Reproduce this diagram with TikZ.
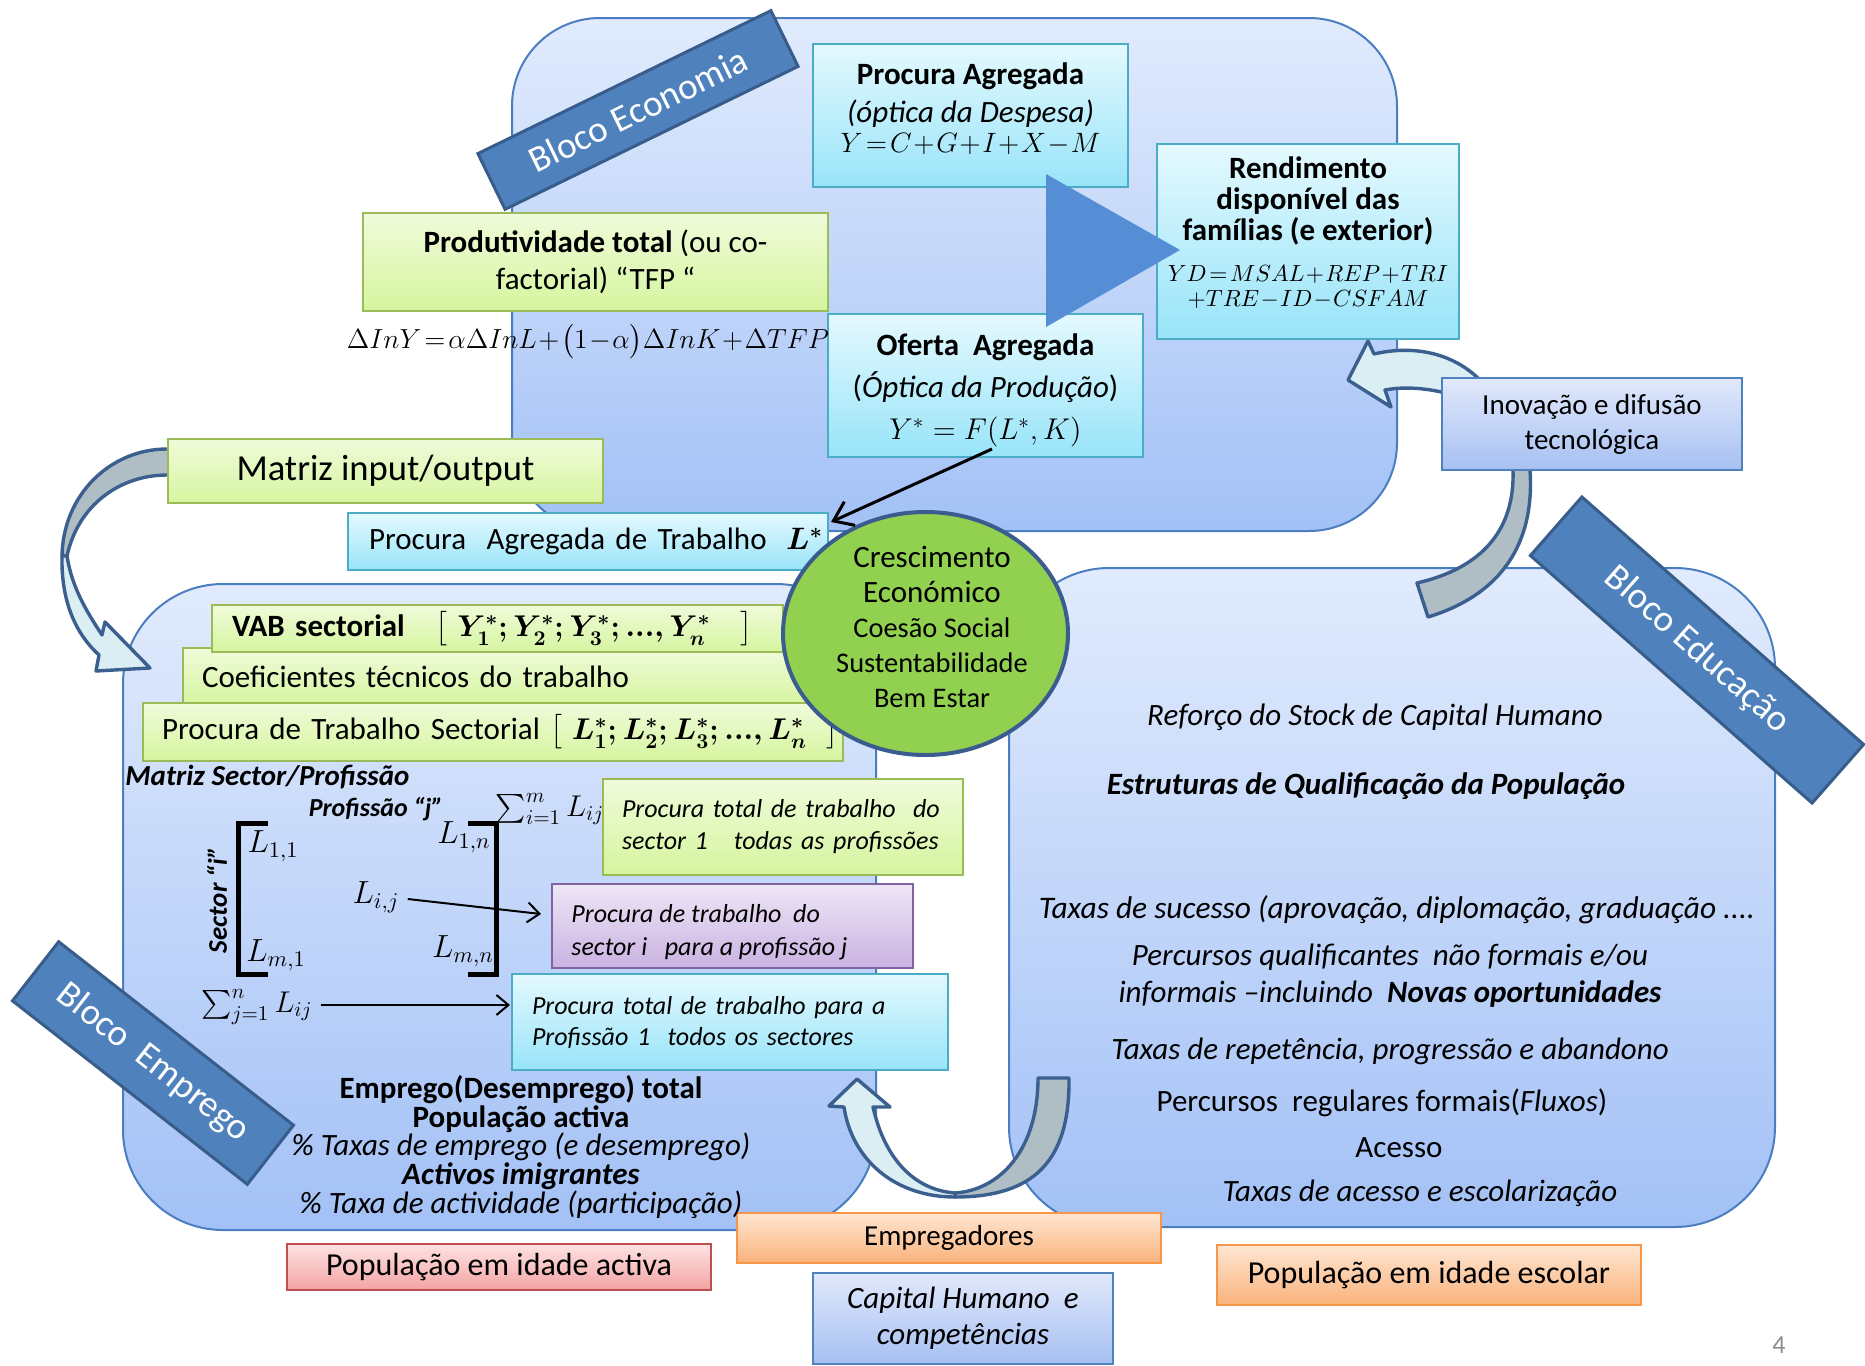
\RequirePackage{fix-cm}
\documentclass[tikz,border=0pt]{standalone}
\usepackage{amsmath}
\usepackage{fontspec}
\setmainfont{Carlito}
\usetikzlibrary{shapes.geometric,arrows.meta,calc}
\newcommand\myfs[2]{\fontsize{#1}{#2}\selectfont}
\newcommand\tightm{\medmuskip=1mu\thickmuskip=2mu\relax}
\lineskiplimit=-50pt
\definecolor{bigT}{HTML}{E1EBFD}
\definecolor{bigB}{HTML}{A3C1F6}
\definecolor{bigD}{HTML}{4A7EC1}
\definecolor{grT}{HTML}{F0FBDA}
\definecolor{grB}{HTML}{D5F59F}
\definecolor{grD}{HTML}{9BBB59}
\definecolor{cyT}{HTML}{E4F9FE}
\definecolor{cyB}{HTML}{98E4F9}
\definecolor{cyD}{HTML}{4BACC6}
\definecolor{puT}{HTML}{EEE6F6}
\definecolor{puB}{HTML}{CAB2E2}
\definecolor{puD}{HTML}{8064A2}
\definecolor{rdT}{HTML}{FDE3E3}
\definecolor{rdB}{HTML}{F4A3A3}
\definecolor{rdD}{HTML}{C0504D}
\definecolor{orT}{HTML}{FEE6D2}
\definecolor{orB}{HTML}{FAB27B}
\definecolor{orD}{HTML}{F79646}
\definecolor{blT}{HTML}{E1E9FB}
\definecolor{blB}{HTML}{A6C0F2}
\definecolor{blD}{HTML}{4F81BD}
\definecolor{banF}{HTML}{4F81BD}
\definecolor{banD}{HTML}{385D8A}
\definecolor{triF}{HTML}{558ED5}
\definecolor{cirF}{HTML}{92D050}
\definecolor{cirD}{HTML}{3B5C8E}
\definecolor{arL}{HTML}{DBEEF4}
\definecolor{arG}{HTML}{AFBEC5}
\definecolor{arD}{HTML}{3B5F8E}
\definecolor{pgnum}{HTML}{8C8C8C}
\begin{document}
\begin{tikzpicture}[x=0.5pt,y=-0.5pt,
  bigrect/.style={draw=bigD, line width=1pt, top color=bigT, bottom color=bigB},
  boxbase/.style={rectangle, inner sep=0pt, line width=1pt, align=center},
  gbox/.style={boxbase, draw=grD, top color=grT, bottom color=grB},
  cbox/.style={boxbase, draw=cyD, top color=cyT, bottom color=cyB},
  pbox/.style={boxbase, draw=puD, top color=puT, bottom color=puB},
  rbox/.style={boxbase, draw=rdD, top color=rdT, bottom color=rdB},
  obox/.style={boxbase, draw=orD, top color=orT, bottom color=orB},
  bbox/.style={boxbase, draw=blD, top color=blT, bottom color=blB},
  banner/.style={rectangle, inner sep=0pt, fill=banF, draw=banD, line width=1.5pt, text=white, font=\myfs{18.5}{20}},
  blockL/.style={draw=arD, line width=1.7pt, fill=arL, line join=round},
  blockG/.style={draw=arD, line width=1.7pt, fill=arG, line join=round},
  thinarrow/.style={-{Straight Barb[length=6pt,width=10pt]}, line width=1pt, draw=black},
  plain/.style={inner sep=0pt, align=center},
  edut/.style={plain, font=\myfs{15.5}{18}\itshape},
  mathtxt/.style={inner sep=1pt, font=\myfs{16}{18}},
  bracket/.style={line width=2.5pt, line cap=rect},
]
\path[use as bounding box, fill=white] (0,0) rectangle (1865,1366);

% big blocks
\path[bigrect, rounded corners=44pt] (512,18) rectangle (1397,531);
\path[bigrect, rounded corners=50pt] (123,584) rectangle (876,1230);
\path[bigrect, rounded corners=50pt] (1009,568) rectangle (1775,1227);

% banners
\node[banner, rotate=26, minimum width=163pt, minimum height=31pt] (beco) at (638,110) {Bloco Economia};
\node[banner, rotate=-38, minimum width=149pt, minimum height=37.5pt] (bemp) at (153,1063) {Bloco\ \ Emprego};
\node[banner, rotate=-41.3, minimum width=187.5pt, minimum height=39pt] (bedu) at (1697,650) {Bloco Educação};

% curved block arrows
\path[blockG] (175,449) -- (167,449) .. controls (110,449) and (63,495) .. (62,556) -- (67,556) .. controls (78,505) and (120,475) .. (167,475) -- (175,475) -- cycle;
\path[blockL] (62,556) .. controls (61,602) and (76,634) .. (99,655) -- (96,671) -- (150,668) -- (105,622) -- (102,635) .. controls (87,612) and (72,588) .. (67,556) -- cycle;
\path[blockL] (844,1107) -- (829,1106) -- (857,1079) -- (890,1107) -- (873,1107) .. controls (885,1160) and (915,1190) .. (955,1193) -- (955,1197) .. controls (895,1197) and (852,1160) .. (844,1107) -- cycle;
\path[blockG] (1038,1078) .. controls (1038,1150) and (1000,1190) .. (955,1193) -- (955,1197) .. controls (1035,1197) and (1070,1160) .. (1069,1078) -- cycle;
\path[blockL] (1460,397) .. controls (1432,388) and (1405,386) .. (1385,390) -- (1391,407) -- (1348,380) -- (1368,341) -- (1374,354) .. controls (1412,345) and (1452,352) .. (1480,380) -- cycle;
\path[blockG] (1513,460) -- (1513,470) .. controls (1515,530) and (1482,568) .. (1417,583) -- (1428,617) .. controls (1500,595) and (1535,545) .. (1530,470) -- (1530,460) -- cycle;

% boxes of the economy block
\node[gbox, minimum width=232.5pt, minimum height=49pt, font=\myfs{15.5}{18.5}] (prod) at (595.5,262) {\textbf{Produtividade total} (ou co-\\factorial) “TFP “};
\node[cbox, minimum width=157.5pt, minimum height=71.5pt] (pa) at (970.5,115.5) {};
\node[plain, font=\myfs{15.5}{17}] (patxt) at (970.5,108.5) {\textbf{Procura Agregada}\\[2pt]\textit{(óptica da Despesa)}\\[-2pt]{\tightm\myfs{14}{16}$Y=C+G+I+X-M$}};
\node[cbox, minimum width=157.5pt, minimum height=71.5pt] (oa) at (985.5,385.5) {};
\node[plain, font=\myfs{15.5}{17}] (oatxt) at (985.5,390) {\textbf{Oferta\ \ Agregada}\\[4pt](\textit{Óptica da Produção})\\[4pt]{\myfs{15}{17}$Y^{*}=F(L^{*},K)$}};
\node[cbox, minimum width=151pt, minimum height=97.5pt] (rend) at (1308,241.5) {};
\node[plain, font=\myfs{15.5}{15.5}] (rendtxt) at (1308,233) {\textbf{Rendimento}\\\textbf{disponível das}\\\textbf{famílias (e exterior)}\\[5pt]{\tightm\myfs{11.7}{12.5}$YD=MSAL+REP+TRI$}\\[-3pt]{\tightm\myfs{11.7}{12.5}$+TRE-ID-CSFAM$}};
\node[plain, font=\myfs{13.8}{16}] (tfp) at (588,342) {\tightm$\Delta InY=\alpha\Delta InL+\bigl(1-\alpha\bigr)\Delta InK+\Delta TFP$};
\node[gbox, minimum width=217.5pt, minimum height=32pt, font=\myfs{18.3}{20}] (mio) at (385.5,471) {Matriz input/output};
\node[cbox, minimum height=28.5pt, text width=219pt, inner xsep=10.5pt, align=left, font=\myfs{15.5}{18}] (pat) at (588,541.5) {Procura\ \ Agregada de Trabalho\hfill{\boldmath$L^{*}$}\kern-8pt};

% boxes of the employment block
\node[gbox, minimum height=28.5pt, text width=309.5pt, inner xsep=9.5pt, align=left, font=\myfs{15.5}{18}] (coef) at (511.5,676.5) {Coeficientes técnicos do trabalho};
\node[gbox, minimum height=23.5pt, text width=265.5pt, inner xsep=10pt, align=left, font=\myfs{15.5}{18}] (vab) at (497.5,628.5) {\mbox{\textbf{VAB sectorial}\quad{\boldmath\myfs{15}{18}$\bigl[\;Y_1^{*};Y_2^{*};Y_3^{*};...,Y_n^{*}\quad\bigr]$}}};
\node[gbox, minimum height=29pt, text width=331pt, inner xsep=9.5pt, align=left, font=\myfs{15.5}{18}] (pts) at (493,732) {\mbox{Procura de Trabalho Sectorial\ {\boldmath\myfs{15}{18}$\bigl[\;L_1^{*};L_2^{*};L_3^{*};...,L_n^{*}\;\;\bigr]$}}};
\node[gbox, minimum height=48pt, text width=161pt, inner xsep=9.5pt, align=left, font=\myfs{13}{16}\itshape] (pts1) at (783,827) {Procura total de trabalho\ \ do\\sector 1\ \ \ todas as profissões};
\node[pbox, minimum width=180.5pt, minimum height=42pt] (ptsi) at (732.5,926) {};
\node[anchor=west, inner sep=0pt, align=left, font=\myfs{13}{16.5}\itshape] (ptsitxt) at (571,932) {Procura de trabalho\ \ do\\sector i\ \ \ para a profissão j};
\node[cbox, minimum height=48pt, text width=198pt, inner xsep=10pt, align=left, font=\myfs{13}{15.5}\itshape] (ptp) at (730,1022) {Procura total de trabalho para a\\Profissão 1\ \ todos os sectores};

% other boxes
\node[bbox, minimum width=150pt, minimum height=46pt, font=\myfs{14.5}{17.5}] (inov) at (1592,424) {Inovação e difusão\\tecnológica};
\node[rbox, minimum width=212pt, minimum height=23pt, font=\myfs{16}{18}] (pia) at (499,1267) {População em idade activa};
\node[obox, minimum width=212pt, minimum height=25pt, font=\myfs{14.5}{17}] (empr) at (949,1238) {Empregadores};
\node[bbox, minimum width=150pt, minimum height=45.5pt, font=\myfs{15.5}{18}\itshape] (cap) at (963,1318.5) {Capital Humano\ \ e\\competências};
\node[obox, minimum width=212pt, minimum height=30pt, font=\myfs{16}{18}] (pie) at (1429,1275) {População em idade escolar};

% big triangle
\fill[triF] (1046,174) -- (1180,250) -- (1046,327) -- cycle;

% central ellipse
\node[ellipse, draw=cirD, line width=2pt, fill=cirF, minimum width=142.5pt, minimum height=121.5pt, inner sep=0pt] (cresc) at (925.5,633.5) {};
\node[plain, font=\myfs{15.5}{17.5}] (cresctxt) at (932,627) {Crescimento\\Económico\\{\myfs{14.2}{17.5}Coesão Social}\\{\myfs{14.2}{17.5}Sustentabilidade}\\{\myfs{14.2}{17.5}Bem Estar}};

% arrow from supply to labour demand
\coordinate (oatail) at (992,449);
\draw[thinarrow, line width=1.5pt, -{Straight Barb[length=9pt,width=13pt]}] (oatail) -- ($(pat.north east)+(2,10)$);

% sector / profession matrix
\node[anchor=west, inner sep=0pt, font=\myfs{14.5}{16}\bfseries\itshape] (msp) at (125,777) {Matriz Sector/Profissão};
\node[plain, font=\myfs{13}{15}\bfseries\itshape] (profj) at (376,809) {Profissão “j”};
\node[plain, rotate=90, font=\myfs{13.5}{15}\bfseries\itshape] (sect) at (217,900) {Sector “i”};
\node[mathtxt, font=\myfs{15}{17}] (sumi) at (550,809) {$\sum_{i=1}^{m} L_{ij}$};
\node[mathtxt, font=\myfs{15}{17}] (sumj) at (257,1007) {$\sum_{j=1}^{n} L_{ij}$};
\draw[bracket] (265,823) -- (238,823) -- (238,974) -- (265,974);
\draw[bracket] (470,823) -- (496,823) -- (496,974) -- (470,974);
\node[mathtxt] (l11) at (273,846) {$L_{1,1}$};
\node[mathtxt] (l1n) at (464,837) {$L_{1,n}$};
\node[mathtxt] (lij) at (376,897) {$L_{i,j}$};
\node[mathtxt] (lm1) at (276,955) {$L_{m,1}$};
\node[mathtxt] (lmn) at (463,951) {$L_{m,n}$};
\draw[thinarrow] ($(lij.east)+(6,2)$) -- ($(ptsi.west)+(-10,-12)$);
\draw[thinarrow] ($(sumj.east)+(6,-2)$) -- ($(ptp.west)+(-1,-17)$);

% employment block text
\node[plain, font=\myfs{15.5}{14.3}] (emptxt) at (521,1147) {\textbf{Emprego(Desemprego) total}\\\textbf{População activa}\\\textit{\% Taxas de emprego (e desemprego)}\\\textbf{\textit{Activos imigrantes}}\\\textit{\% Taxa de actividade (participação)}};

% education block text
\node[edut] (edu1) at (1375,717) {Reforço do Stock de Capital Humano};
\node[edut, font=\myfs{15.5}{18}\bfseries\itshape] (edu2) at (1366,786) {Estruturas de Qualificação da População};
\node[edut, font=\myfs{15.7}{18}\itshape] (edu3) at (1397,910) {Taxas de sucesso (aprovação, diplomação, graduação ....};
\node[edut] (edu4) at (1390,957) {Percursos qualificantes\ \ não formais e/ou};
\node[edut] (edu5) at (1390,994) {informais –incluindo\ \ \textbf{Novas oportunidades}};
\node[edut] (edu6) at (1390,1051) {Taxas de repetência, progressão e abandono};
\node[edut, font=\myfs{15.5}{18}] (edu7) at (1382,1103) {Percursos\ \ regulares formais(\textit{Fluxos})};
\node[edut, font=\myfs{15.5}{18}] (edu8) at (1399,1148) {Acesso};
\node[edut] (edu9) at (1420,1193) {Taxas de acesso e escolarização};

% page number
\node[plain, text=pgnum, font=\myfs{13}{15}] (pagenum) at (1779,1345) {4};
\end{tikzpicture}
\end{document}
